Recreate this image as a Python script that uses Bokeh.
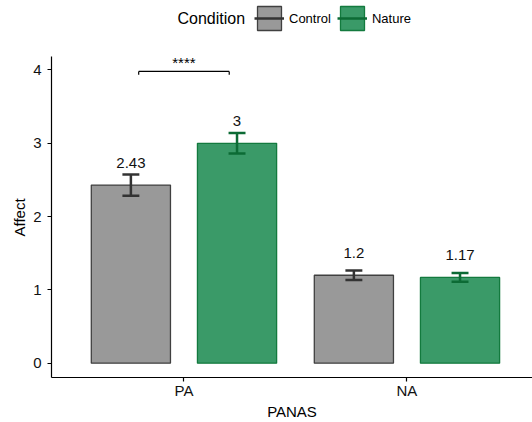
from bokeh.plotting import figure
from bokeh.models import ColumnDataSource, Legend, LegendItem, FixedTicker, Label, Title
from bokeh.core.properties import value
from bokeh.embed import file_html
from bokeh.resources import INLINE

# ---- data ----
groups = ["PA", "NA"]
conditions = ["Control", "Nature"]
panas = ["PA", "PA", "NA", "NA"]
condition = ["Control", "Nature", "Control", "Nature"]
means = [2.43, 3.00, 1.20, 1.17]
ses = [0.145, 0.14, 0.065, 0.06]
value_labels = ["2.43", "3", "1.2", "1.17"]
sig_group = "PA"
sig_y = 3.98
sig_label = "****"
y_ticks = [0, 1, 2, 3, 4]

# ---- style ----
FONT = "Liberation Sans"
fills = {"Control": "#999999", "Nature": "#3a9a68"}
outlines = {"Control": "#404040", "Nature": "#137a3e"}
errcols = {"Control": "#333333", "Nature": "#0c6b35"}
dodge = {"Control": -0.238, "Nature": 0.238}
bar_w = 0.355
cap_half = 0.038
label_gap = 0.3
y_lo, y_hi = -0.195, 4.186      # visible axis extent
px_per_unit = 73.5

gpos = {g: i + 1 for i, g in enumerate(groups)}

H = 422
frame_bottom = 378
# frame reaches the top of the figure so the legend (drawn in the frame) is not clipped
y_top = y_lo + frame_bottom / px_per_unit

p = figure(width=532, height=H, output_backend="svg", toolbar_location=None,
           x_range=(0.406, 2.563), y_range=(y_lo, y_top),
           min_border_left=51, min_border_right=0, min_border_top=0,
           min_border_bottom=0)
p.background_fill_color = "white"
p.border_fill_color = "white"
p.outline_line_color = None
p.xgrid.visible = False
p.ygrid.visible = False

items = []
for c in conditions:
    idx = [i for i, cc in enumerate(condition) if cc == c]
    xs = [gpos[panas[i]] + dodge[c] for i in idx]
    m = [means[i] for i in idx]
    s = [ses[i] for i in idx]
    lo = [a - b for a, b in zip(m, s)]
    hi = [a + b for a, b in zip(m, s)]
    src = ColumnDataSource(dict(x=xs, top=m, lo=lo, hi=hi,
                                cx0=[x - cap_half for x in xs],
                                cx1=[x + cap_half for x in xs],
                                ly=[a + label_gap for a in m],
                                lab=[value_labels[i] for i in idx]))
    rb = p.vbar(x="x", top="top", bottom=0, width=bar_w, source=src,
                fill_color=fills[c], line_color=outlines[c], line_width=1.3)
    rv = p.segment(x0="x", y0="lo", x1="x", y1="hi", source=src,
                   line_color=errcols[c], line_width=2.5)
    p.segment(x0="cx0", y0="hi", x1="cx1", y1="hi", source=src,
              line_color=errcols[c], line_width=2.5)
    p.segment(x0="cx0", y0="lo", x1="cx1", y1="lo", source=src,
              line_color=errcols[c], line_width=2.5)
    p.text(x="x", y="ly", text="lab", source=src, text_font=value(FONT),
           text_font_size="15px", text_align="center",
           text_baseline="middle", text_color="#111111")
    items.append(LegendItem(label=c, renderers=[rb, rv]))

# significance bracket
gx = gpos[sig_group]
bx0, bx1 = gx + dodge["Control"] + 0.035, gx + dodge["Nature"] - 0.035
bsrc = ColumnDataSource(dict(x0=[bx0, bx0, bx1], y0=[sig_y, sig_y, sig_y],
                             x1=[bx1, bx0, bx1], y1=[sig_y, sig_y - 0.045, sig_y - 0.045]))
p.segment(x0="x0", y0="y0", x1="x1", y1="y1", source=bsrc,
          line_color="black", line_width=1.2)
p.text(x=[gx], y=[sig_y + 0.12], text=[sig_label], text_font=value(FONT),
       text_font_size="15px", text_align="center", text_baseline="middle",
       text_color="black")

# axes
for ax in (p.xaxis[0], p.yaxis[0]):
    ax.axis_line_color = "black"
    ax.axis_line_width = 1.2
    ax.major_tick_line_color = "black"
    ax.major_tick_line_width = 1.2
    ax.major_tick_out = 4
    ax.major_tick_in = 0
    ax.minor_tick_line_color = None
    ax.minor_tick_out = 0
    ax.major_label_text_font = FONT
    ax.major_label_text_font_size = "15px"
    ax.major_label_text_color = "#111111"
    ax.axis_label_text_font = FONT
    ax.axis_label_text_font_size = "15px"
    ax.axis_label_text_font_style = "normal"
    ax.axis_label_text_color = "black"

p.xaxis.ticker = FixedTicker(ticks=[gpos[g] for g in groups])
p.xaxis.major_label_overrides = {gpos[g]: g for g in groups}
p.xaxis.axis_label = "PANAS"
p.xaxis.major_label_standoff = 0
p.xaxis.axis_label_standoff = 1
p.yaxis.ticker = FixedTicker(ticks=y_ticks)
p.yaxis.bounds = (y_lo, y_hi)
p.yaxis.major_label_standoff = 6

# y-axis title, centred on the visible axis extent
p.add_layout(Title(text="Affect", align="left", offset=141, standoff=5,
                   text_font=FONT, text_font_size="15px",
                   text_font_style="normal", text_color="black"), "left")

# legend (title drawn as a label at its left)
legend = Legend(items=items, orientation="horizontal",
                location=(203, frame_bottom - 34),
                label_text_font=FONT, label_text_font_size="13px",
                label_text_color="black", label_standoff=5, spacing=6,
                glyph_width=30, glyph_height=30, padding=0, margin=0,
                border_line_color=None, background_fill_alpha=0)
p.add_layout(legend, "center")
p.add_layout(Label(x=126, y=frame_bottom - 19, x_units="screen", y_units="screen",
                   text="Condition", text_font=FONT, text_font_size="16px",
                   text_baseline="middle", text_align="left",
                   text_color="black"))

open("out.html", "w").write(file_html(p, INLINE))
